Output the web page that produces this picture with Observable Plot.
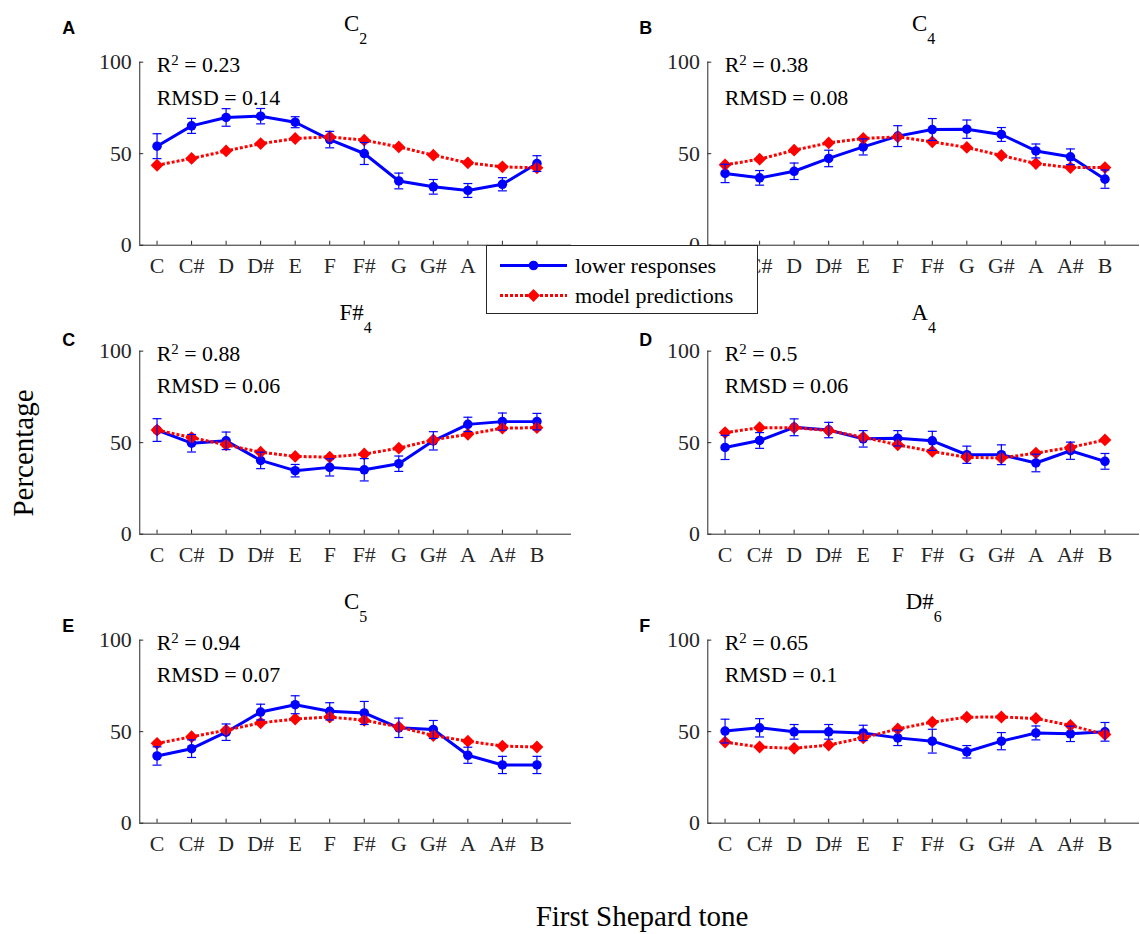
<!DOCTYPE html>
<html>
<head>
<meta charset="utf-8">
<script src="https://cdn.jsdelivr.net/npm/d3@7"></script>
<script src="https://cdn.jsdelivr.net/npm/@observablehq/plot@0.6"></script>
<style>
  html, body { margin: 0; padding: 0; background: #fff; overflow: hidden; }
  #wrap { position: relative; width: 1140px; height: 934px; overflow: hidden; background: #fff; font-family: "Liberation Serif", "Times New Roman", serif; color: #000; }
  #chart { position: absolute; left: 0; top: 0; }
  #chart svg text { font-family: "Liberation Serif", serif; }
  #chart svg text.letter { font-family: "Liberation Sans", Arial, sans-serif; }
  #legend { position: absolute; left: 486px; top: 245px; }
  #legend text { font-family: "Liberation Serif", serif; font-size: 22px; }
  .axlab { position: absolute; font-size: 29px; white-space: nowrap; color: #000; }
</style>
</head>
<body>
<div id="wrap">
  <div id="chart"></div>
  <div id="legend"></div>
  <div class="axlab" id="ylab">Percentage</div>
  <div class="axlab" id="xlab">First Shepard tone</div>
</div>
<script>
// ---------- data ----------
const notes = ["C", "C#", "D", "D#", "E", "F", "F#", "G", "G#", "A", "A#", "B"];
const panelIds = ["A", "B", "C", "D", "E", "F"];
const panelTitles = ["C_2", "C_4", "F#_4", "A_4", "C_5", "D#_6"];
const r2Values = ["0.23", "0.38", "0.88", "0.5", "0.94", "0.65"];
const rmsdValues = ["0.14", "0.08", "0.06", "0.06", "0.07", "0.1"];
const seriesNames = ["lower responses", "model predictions"];

const lowerA = [54.1, 65.2, 69.8, 70.5, 67.2, 57.7, 50.1, 35.1, 31.9, 29.9, 33.3, 44.6];
const errA   = [6.8, 4.1, 4.8, 4.2, 3.0, 4.5, 6.0, 4.3, 4.0, 3.8, 3.6, 4.3];
const modelA = [43.7, 47.4, 51.5, 55.5, 58.3, 59.2, 57.4, 53.7, 49.2, 45.0, 42.8, 42.3];

const lowerB = [39.2, 36.8, 40.4, 47.4, 53.7, 59.6, 63.2, 63.4, 60.5, 51.5, 48.3, 36.1];
const errB   = [5.0, 4.0, 4.5, 4.5, 4.4, 5.7, 6.0, 5.0, 3.8, 3.8, 4.3, 5.0];
const modelB = [43.9, 47.0, 51.9, 55.9, 58.3, 59.2, 56.5, 53.4, 49.0, 44.6, 42.4, 42.4];

const lowerC = [56.9, 49.7, 51.0, 40.3, 34.7, 36.5, 35.2, 38.5, 51.0, 60.0, 61.5, 61.5];
const errC   = [6.2, 4.8, 4.8, 4.5, 3.4, 4.7, 6.1, 4.2, 5.0, 3.9, 4.7, 4.5];
const modelC = [56.9, 52.8, 48.8, 44.8, 42.5, 42.1, 43.8, 47.0, 51.5, 54.6, 57.9, 58.2];

const lowerD = [47.4, 51.2, 58.4, 56.9, 52.1, 52.4, 51.0, 43.4, 43.4, 38.9, 45.6, 39.8];
const errD   = [6.6, 4.3, 4.6, 4.2, 4.5, 4.2, 5.2, 4.7, 5.4, 4.8, 4.7, 4.3];
const modelD = [55.5, 58.2, 58.2, 56.6, 53.0, 48.8, 45.2, 42.0, 41.6, 44.3, 47.4, 51.5];

const lowerE = [36.7, 40.7, 49.7, 60.7, 64.7, 61.1, 60.2, 52.1, 51.2, 37.1, 31.8, 31.8];
const errE   = [5.0, 4.8, 4.5, 4.3, 4.9, 4.7, 6.3, 5.3, 4.9, 4.4, 4.7, 4.7];
const modelE = [43.6, 47.2, 50.8, 54.8, 56.9, 58.0, 56.2, 52.6, 47.9, 44.8, 42.1, 41.6];

const lowerF = [50.3, 52.1, 49.9, 49.9, 49.3, 46.6, 44.8, 39.0, 44.8, 49.3, 48.8, 49.9];
const errF   = [6.5, 5.0, 4.0, 4.0, 4.2, 4.2, 6.5, 3.4, 4.7, 3.8, 4.2, 5.1];
const modelF = [44.3, 41.6, 40.9, 42.7, 46.6, 51.5, 55.2, 57.9, 58.0, 57.2, 53.4, 48.5];

const yTicks = [0, 50, 100];

// ---------- build tables ----------
const lowers = [lowerA, lowerB, lowerC, lowerD, lowerE, lowerF];
const errs = [errA, errB, errC, errD, errE, errF];
const models = [modelA, modelB, modelC, modelD, modelE, modelF];

const panels = panelIds.map((id, p) => ({
  id, col: p % 2, row: Math.floor(p / 2),
  title: panelTitles[p], r2: r2Values[p], rmsd: rmsdValues[p]
}));
const lowerData = [], modelData = [];
panels.forEach((pn, p) => {
  notes.forEach((n, i) => {
    lowerData.push({col: pn.col, row: pn.row, x: i + 1, y: lowers[p][i], e: errs[p][i]});
    modelData.push({col: pn.col, row: pn.row, x: i + 1, y: models[p][i]});
  });
});

const BLUE = "#0000ff", RED = "#ff0000", AX = "#262626";
const DASH = "3,2";
const xDomain = [0.5, 13];
const letterDx = [-78, -69];
const letterDy = [-34, -11, -14];

const capSymbol = {
  draw(context, size) {
    const w = Math.sqrt(size / Math.PI);
    context.moveTo(-w, 0);
    context.lineTo(w, 0);
  }
};

const letterMarks = panels.map(pn => Plot.text([pn], {
  fx: "col", fy: "row", text: "id", frameAnchor: "top-left",
  dx: letterDx[pn.col], dy: letterDy[pn.row], textAnchor: "start", lineAnchor: "middle",
  fontWeight: "bold", fontSize: 18, fill: "#000", className: "letter"
}));

const chart = Plot.plot({
  width: 1146, height: 934,
  marginLeft: 140, marginRight: 1, marginTop: 62, marginBottom: 107,
  x: {domain: xDomain},
  y: {domain: [0, 100]},
  fx: {domain: [0, 1], paddingInner: 0.24, paddingOuter: 0, round: false, axis: null},
  fy: {domain: [0, 1, 2], paddingInner: 0.3666, paddingOuter: 0, round: false, axis: null},
  style: {fontFamily: "'Liberation Serif', serif", fontSize: "22px", color: AX, background: "transparent", overflow: "visible"},
  marks: [
    Plot.ruleY([0], {stroke: AX, strokeWidth: 1}),
    Plot.ruleX([xDomain[0]], {stroke: AX, strokeWidth: 1}),
    Plot.axisX({ticks: d3.range(1, 13), tickFormat: i => notes[i - 1], tickSize: -4, tickPadding: 16, label: null, facetAnchor: null, stroke: AX, fill: AX, fontSize: 22}),
    Plot.axisY({ticks: yTicks, tickSize: -4, tickPadding: 12, label: null, facetAnchor: null, stroke: AX, fill: AX, fontSize: 22}),
    Plot.line(lowerData, {fx: "col", fy: "row", x: "x", y: "y", stroke: BLUE, strokeWidth: 3}),
    Plot.dot(lowerData, {fx: "col", fy: "row", x: "x", y: "y", r: 4.8, fill: BLUE}),
    Plot.line(modelData, {fx: "col", fy: "row", x: "x", y: "y", stroke: RED, strokeWidth: 3, strokeDasharray: DASH, strokeLinecap: "butt"}),
    Plot.dot(modelData, {fx: "col", fy: "row", x: "x", y: "y", r: 5.8, symbol: "diamond2", fill: RED}),
    Plot.ruleX(lowerData, {fx: "col", fy: "row", x: "x", y1: d => d.y - d.e, y2: d => d.y + d.e, stroke: BLUE, strokeWidth: 1.2}),
    Plot.dot(lowerData, {fx: "col", fy: "row", x: "x", y: d => d.y + d.e, r: 4.5, symbol: capSymbol, fill: "none", stroke: BLUE, strokeWidth: 1.2}),
    Plot.dot(lowerData, {fx: "col", fy: "row", x: "x", y: d => d.y - d.e, r: 4.5, symbol: capSymbol, fill: "none", stroke: BLUE, strokeWidth: 1.2}),
    Plot.text(panels, {fx: "col", fy: "row", text: "title", frameAnchor: "top", dy: -39, lineAnchor: "middle", fontSize: 23, fill: "#000"}),
    Plot.text(panels, {fx: "col", fy: "row", text: d => "R^2 = " + d.r2, frameAnchor: "top-left", dx: 17, dy: 2.5, textAnchor: "start", lineAnchor: "middle", fontSize: 22, fill: "#000"}),
    Plot.text(panels, {fx: "col", fy: "row", text: d => "RMSD = " + d.rmsd, frameAnchor: "top-left", dx: 17, dy: 35.5, textAnchor: "start", lineAnchor: "middle", fontSize: 22, fill: "#000"}),
    ...letterMarks
  ]
});

// panel letters: sans-serif bold
chart.querySelectorAll("text").forEach(t => {
  if (/^[A-F]$/.test(t.textContent) && t.getAttribute("font-weight") === "bold") t.classList.add("letter");
});
chart.querySelectorAll("g[font-weight='bold'] text").forEach(t => t.classList.add("letter"));

// super/subscripts
function richText(root) {
  root.querySelectorAll("text").forEach(t => {
    if (t.querySelector("tspan")) return;
    const s = t.textContent;
    if (!/[\^_]/.test(s)) return;
    t.textContent = "";
    const ns = "http://www.w3.org/2000/svg";
    let i = 0, buf = "";
    let pendingReset = 0;
    const flush = () => {
      if (!buf) return;
      const sp = document.createElementNS(ns, "tspan");
      if (pendingReset) { sp.setAttribute("dy", pendingReset); pendingReset = 0; }
      sp.textContent = buf;
      t.appendChild(sp);
      buf = "";
    };
    while (i < s.length) {
      const c = s[i];
      if ((c === "^" || c === "_") && i + 1 < s.length) {
        flush();
        const sp = document.createElementNS(ns, "tspan");
        const shift = c === "^" ? -7 : 13;
        sp.setAttribute("dy", shift + pendingReset);
        pendingReset = -shift;
        sp.setAttribute("font-size", c === "^" ? 15 : 16);
        sp.textContent = s[i + 1];
        t.appendChild(sp);
        i += 2;
      } else {
        buf += c;
        i++;
      }
    }
    flush();
  });
}
richText(chart);
document.getElementById("chart").appendChild(chart);

// legend
(function () {
  const W = 271, H = 68;
  const svg = d3.create("svg").attr("width", W + 1).attr("height", H + 1);
  svg.append("rect").attr("x", 0.5).attr("y", 0.5).attr("width", W).attr("height", H)
    .attr("fill", "#fff").attr("stroke", AX).attr("stroke-width", 1);
  const rowsY = [20.5, 50.5];
  const colors = [BLUE, RED];
  rowsY.forEach((yy, k) => {
    const g = svg.append("g");
    g.append("line").attr("x1", 14).attr("x2", 81).attr("y1", yy).attr("y2", yy)
      .attr("stroke", colors[k]).attr("stroke-width", 3)
      .attr("stroke-dasharray", k === 1 ? DASH : null);
    if (k === 0) {
      g.append("circle").attr("cx", 47.5).attr("cy", yy).attr("r", 4.8).attr("fill", BLUE);
    } else {
      g.append("path").attr("d", d3.symbol(d3.symbolDiamond2, Math.PI * 5.8 * 5.8)())
        .attr("transform", `translate(47.5,${yy})`).attr("fill", RED);
    }
    g.append("text").attr("x", 89).attr("y", yy).attr("dy", "0.32em").attr("fill", "#000").text(seriesNames[k]);
  });
  document.getElementById("legend").appendChild(svg.node());
})();

// axis labels (outer)
const ylab = document.getElementById("ylab");
ylab.style.left = "23px"; ylab.style.top = "453px";
ylab.style.transform = "translate(-50%,-50%) rotate(-90deg)";
const xlab = document.getElementById("xlab");
xlab.style.left = "642px"; xlab.style.top = "916px";
xlab.style.transform = "translate(-50%,-50%)";
</script>
</body>
</html>
